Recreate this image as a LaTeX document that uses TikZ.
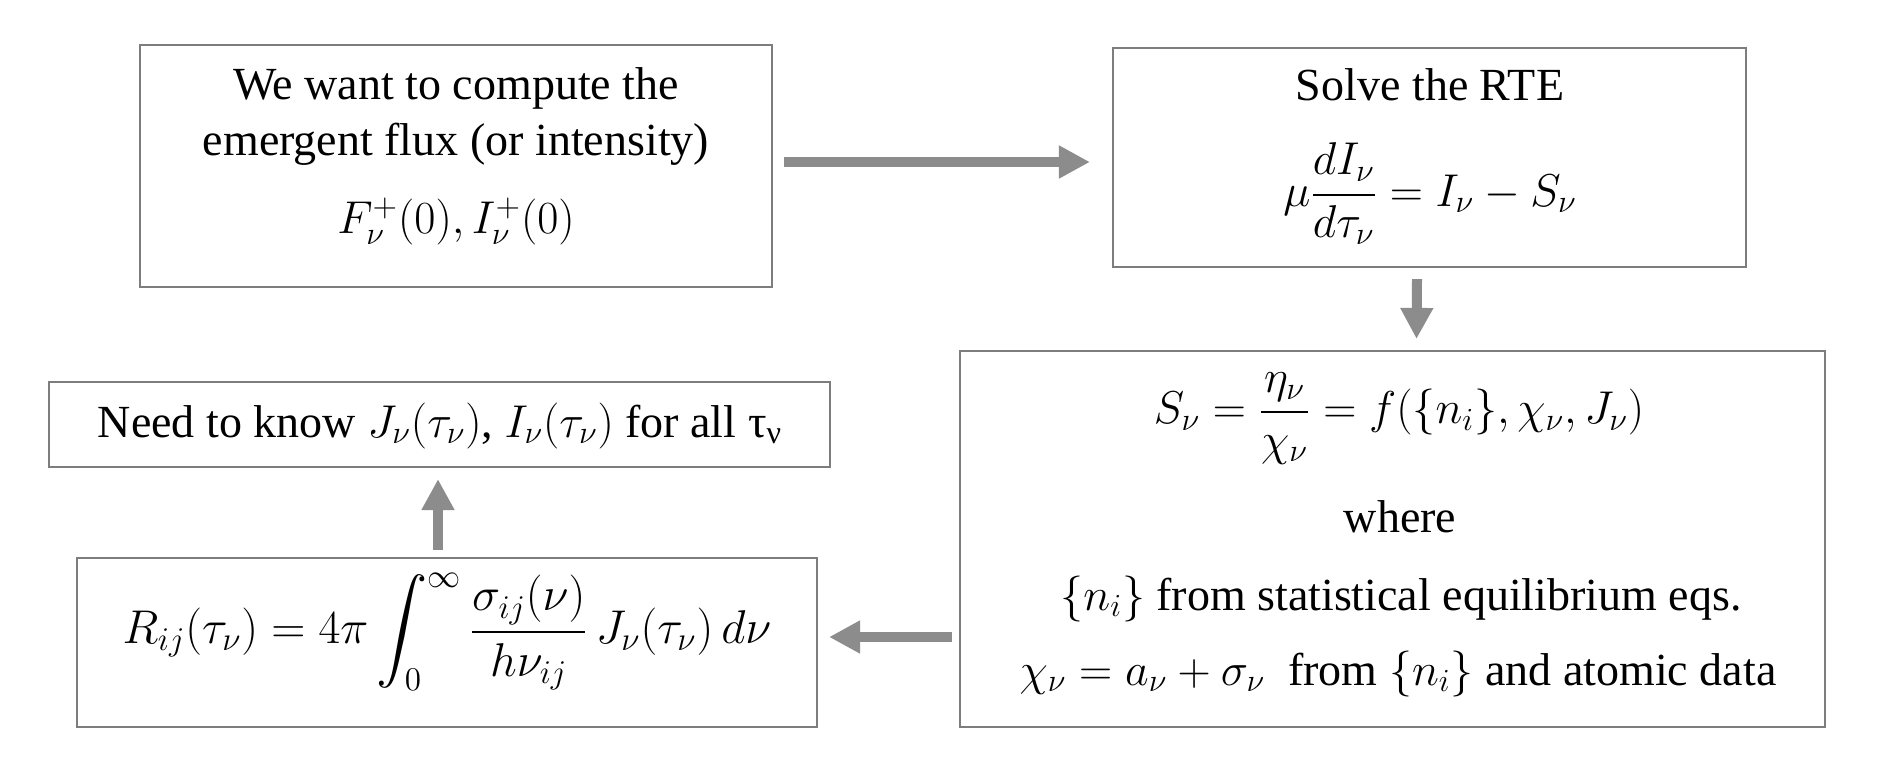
\RequirePackage{fix-cm}
\documentclass[tikz,border=0pt]{standalone}
\usepackage{amsmath}
\usepackage{fontspec}
\setmainfont{Liberation Serif}
\usetikzlibrary{arrows.meta,calc}
\definecolor{boxgray}{RGB}{125,125,125}
\definecolor{arrgray}{RGB}{140,140,140}
\begin{document}
\begin{tikzpicture}[x=0.5pt,y=-0.5pt,
  box/.style={draw=boxgray,line width=1.1pt,inner sep=0pt,fill=white},
  txt/.style={inner sep=0pt,anchor=base,font=\fontsize{23}{28}\selectfont},
  arr/.style={draw=arrgray,line width=5pt,-{Triangle[length=15.5pt,width=15.5pt,fill=arrgray]}}]
\useasboundingbox[fill=white] (0,0) rectangle (1877,782);
% boxes
\node[box,minimum width=316pt,minimum height=121pt] (A) at (456,166) {};
\node[box,minimum width=316.5pt,minimum height=109.5pt] (B) at (1429.5,157.5) {};
\node[box,minimum width=432.5pt,minimum height=188pt] (C) at (1392.5,539) {};
\node[box,minimum width=370pt,minimum height=84.5pt] (D) at (447,642.5) {};
\node[box,minimum width=390.5pt,minimum height=42.5pt] (E) at (439.5,424.5) {};
% texts
\node[txt] (a1) at (456,99) {We want to compute the};
\node[txt] (a2) at (456,155) {emergent flux (or intensity)};
\node[txt] (a3) at (456,233) {$F_\nu^+(0), I_\nu^+(0)$};
\node[txt] (b1) at (1430,100) {Solve the RTE};
\node[txt] (b2) at (1430,206) {$\mu\dfrac{dI_\nu}{d\tau_\nu} = I_\nu - S_\nu$};
\node[txt] (c1) at (1399,423.5) {$S_\nu = \dfrac{\eta_\nu}{\chi_\nu} = f(\{n_i\},\chi_\nu,J_\nu)$};
\node[txt] (c2) at (1400,532) {where};
\node[txt] (c3) at (1401,610) {$\{n_i\}$ from statistical equilibrium eqs.};
\node[txt] (c4) at (1398,685) {$\chi_\nu = a_\nu + \sigma_\nu$\ \ from $\{n_i\}$ and atomic data};
\node[txt] (d1) at (447,643.5) {\scalebox{1.03}{$R_{ij}(\tau_\nu) = 4\pi\displaystyle\int_0^\infty \dfrac{\sigma_{ij}(\nu)}{h\nu_{ij}}\,J_\nu(\tau_\nu)\,d\nu$}};
\node[txt] (e1) at (440,437) {Need to know $J_\nu(\tau_\nu)$, $I_\nu(\tau_\nu)$ for all τ\textsubscript{ν}};
% connectors
\draw[arr] ($(A.east)+(11,-4)$) -- ($(B.west)+(-22,4.5)$);
\draw[arr] ($(B.south)+(-12.5,11)$) -- ($(C.north)+(24,-11)$);
\draw[arr] ($(C.west)+(-7,98)$) -- ($(D.east)+(11,-5.5)$);
\draw[arr] ($(D.north)+(-9,-7)$) -- ($(E.south)+(-1.5,11)$);
\end{tikzpicture}
\end{document}
